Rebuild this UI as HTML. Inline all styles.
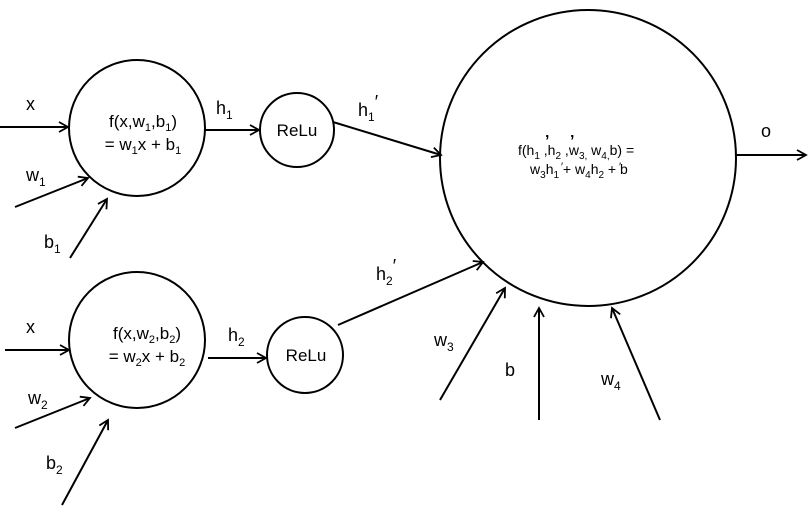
<!DOCTYPE html><html><head><style>body{margin:0;background:#fff}svg{display:block}text{font-family:"Liberation Sans",sans-serif;fill:#000}</style></head><body>
<svg width="809" height="510" viewBox="0 0 809 510">
<defs><marker id="a" markerWidth="12" markerHeight="12" refX="10" refY="6" orient="auto" markerUnits="userSpaceOnUse"><path d="M1,1 L10,6 L1,11" fill="none" stroke="#000" stroke-width="1.8"/></marker></defs>
<g fill="none" stroke="#000" stroke-width="2">
<circle cx="137" cy="128" r="68"/>
<circle cx="297" cy="130" r="37"/>
<circle cx="137" cy="340" r="68"/>
<circle cx="305" cy="355" r="38"/>
<circle cx="588" cy="158" r="148"/>
</g>
<g stroke="#000" stroke-width="2" marker-end="url(#a)">
<line x1="0" y1="127" x2="68" y2="127"/>
<line x1="15" y1="207" x2="88" y2="178"/>
<line x1="70" y1="258" x2="107" y2="199"/>
<line x1="205" y1="130" x2="259" y2="130"/>
<line x1="333" y1="122" x2="441" y2="155"/>
<line x1="5" y1="350" x2="69" y2="350"/>
<line x1="15" y1="428" x2="90" y2="398"/>
<line x1="62" y1="505" x2="108" y2="420"/>
<line x1="208" y1="358" x2="266" y2="358"/>
<line x1="338" y1="325" x2="483" y2="262"/>
<line x1="440" y1="400" x2="505" y2="288"/>
<line x1="539" y1="420" x2="539" y2="308"/>
<line x1="660" y1="420" x2="612" y2="308"/>
<line x1="735" y1="155" x2="806" y2="155"/>
</g>
<g font-size="18">
<text x="26" y="110">x</text>
<text x="26" y="181">w<tspan font-size="12" dy="5">1</tspan></text>
<text x="44" y="248">b<tspan font-size="12" dy="5">1</tspan></text>
<text x="216" y="114">h<tspan font-size="12" dy="5">1</tspan></text>
<text x="358" y="116">h<tspan font-size="12" dy="5">1</tspan><tspan dy="-13">′</tspan></text>
<text x="26" y="333">x</text>
<text x="28" y="404">w<tspan font-size="12" dy="5">2</tspan></text>
<text x="46" y="469">b<tspan font-size="12" dy="5">2</tspan></text>
<text x="228" y="341">h<tspan font-size="12" dy="5">2</tspan></text>
<text x="376" y="280">h<tspan font-size="12" dy="5">2</tspan><tspan dy="-13">′</tspan></text>
<text x="434" y="346">w<tspan font-size="12" dy="5">3</tspan></text>
<text x="505" y="376">b</text>
<text x="601" y="385">w<tspan font-size="12" dy="5">4</tspan></text>
<text x="761" y="137">o</text>
</g>
<g font-size="17" text-anchor="middle">
<text x="143" y="127">f(x,w<tspan font-size="11" dy="4">1</tspan><tspan dy="-4">,b</tspan><tspan font-size="11" dy="4">1</tspan><tspan dy="-4">)</tspan></text>
<text x="143" y="150">= w<tspan font-size="11" dy="4">1</tspan><tspan dy="-4">x + b</tspan><tspan font-size="11" dy="4">1</tspan></text>
<text x="147" y="339">f(x,w<tspan font-size="11" dy="4">2</tspan><tspan dy="-4">,b</tspan><tspan font-size="11" dy="4">2</tspan><tspan dy="-4">)</tspan></text>
<text x="147" y="362">= w<tspan font-size="11" dy="4">2</tspan><tspan dy="-4">x + b</tspan><tspan font-size="11" dy="4">2</tspan></text>
<text x="297" y="136">ReLu</text>
<text x="306" y="361">ReLu</text>
</g>
<g font-size="14">
<text x="518" y="155">f(h<tspan font-size="10" dy="4">1</tspan><tspan dy="-4"> ,h</tspan><tspan font-size="10" dy="4">2</tspan><tspan dy="-4"> ,w</tspan><tspan font-size="10" dy="4">3,</tspan><tspan dy="-4"> w</tspan><tspan font-size="10" dy="4">4,</tspan><tspan dy="-4">b) =</tspan></text>
<text x="545" y="146" font-size="16" font-weight="bold">’</text><text x="570" y="146" font-size="16" font-weight="bold">’</text>
<text x="530" y="174">w<tspan font-size="10" dy="4">3</tspan><tspan dy="-4">h</tspan><tspan font-size="10" dy="4">1</tspan><tspan dy="-4">  + w</tspan><tspan font-size="10" dy="4">4</tspan><tspan dy="-4">h</tspan><tspan font-size="10" dy="4">2</tspan><tspan dy="-4">  + b</tspan></text>
<text x="561" y="170" font-size="11">′</text><text x="619" y="170" font-size="11">′</text>
</g>
</svg></body></html>
